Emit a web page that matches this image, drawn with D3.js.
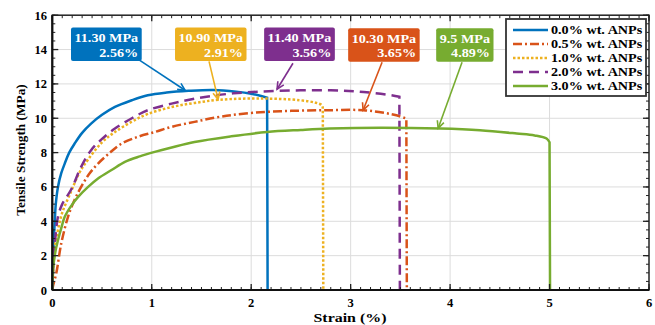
<!DOCTYPE html>
<html><head><meta charset="utf-8">
<script src="https://cdn.jsdelivr.net/npm/d3@7"></script>
<style>body{margin:0;background:#fff}svg{display:block}text{font-family:"Liberation Serif","Times New Roman",serif;font-weight:bold}</style>
</head><body><svg id="c" width="655" height="325"></svg>
<script>
const seriesNames = ["0.0% wt. ANPs","0.5% wt. ANPs","1.0% wt. ANPs","2.0% wt. ANPs","3.0% wt. ANPs"];
const seriesColors = ["#0072BD","#D95319","#EDB120","#7E2F8E","#77AC30"];
const xTicks = [0,1,2,3,4,5,6];
const yTicks = [0,2,4,6,8,10,12,14,16];
// [strain %, stress MPa]; the last point of each series is the fracture drop
const s00 = [[0,0],[0.004,1.2],[0.007,1.94],[0.015,3.0],[0.024,3.88],[0.035,5.0],[0.057,6.0],[0.09,6.8],[0.125,7.36],[0.17,8.0],[0.225,8.53],[0.3,9.15],[0.39,9.69],[0.5,10.2],[0.63,10.66],[0.8,11.05],[0.96,11.34],[1.15,11.5],[1.37,11.6],[1.62,11.65],[1.85,11.55],[2.0,11.43],[2.1,11.3],[2.16,11.2],[2.165,0]];
const s05 = [[0,0],[0.01,0.3],[0.04,0.97],[0.09,2.71],[0.158,4.26],[0.22,5.2],[0.29,6.0],[0.37,6.75],[0.46,7.36],[0.57,7.95],[0.69,8.5],[0.85,8.9],[1.03,9.2],[1.2,9.5],[1.43,9.79],[1.7,10.1],[2.02,10.32],[2.4,10.43],[2.79,10.47],[3.13,10.47],[3.35,10.3],[3.46,10.17],[3.56,9.98],[3.565,0]];
const s10 = [[0,0],[0.01,1.3],[0.03,2.7],[0.057,3.49],[0.1,4.5],[0.19,5.75],[0.27,6.8],[0.36,7.6],[0.5,8.6],[0.63,9.2],[0.8,9.8],[0.96,10.25],[1.2,10.65],[1.43,10.89],[1.69,11.08],[2.09,11.15],[2.49,11.05],[2.65,10.9],[2.71,10.76],[2.72,10.6],[2.725,0]];
const s20 = [[0,0],[0.01,1.5],[0.03,3.0],[0.057,4.26],[0.1,5.0],[0.19,5.85],[0.29,7.17],[0.39,8.14],[0.5,8.8],[0.63,9.4],[0.8,10.0],[0.96,10.47],[1.2,10.85],[1.43,11.14],[1.82,11.45],[2.26,11.59],[2.8,11.63],[3.13,11.53],[3.41,11.34],[3.49,11.25],[3.495,0]];
const s30 = [[0,0],[0.007,1.16],[0.03,2.2],[0.057,2.9],[0.09,3.6],[0.125,4.26],[0.19,4.9],[0.26,5.42],[0.36,6.0],[0.46,6.49],[0.6,7.0],[0.73,7.46],[0.88,7.78],[1.03,8.04],[1.2,8.3],[1.43,8.62],[1.8,8.95],[2.16,9.2],[2.5,9.32],[2.79,9.4],[3.3,9.45],[3.9,9.4],[4.3,9.3],[4.67,9.11],[4.85,9.0],[4.97,8.82],[5.0,8.6],[5.005,0]];
const seriesData = [s00,s05,s10,s20,s30];
const dashes = [null,"9,3,2,3","2.5,2","10,6",null];
// annotations: label lines, colour, box-left x, box-top y, arrow start, arrow target (data units)
const annLabels = [["11.30 MPa","2.56%"],["10.90 MPa","2.91%"],["11.40 MPa","3.56%"],["10.30 MPa","3.65%"],["9.5 MPa","4.89%"]];
const annColors = ["#0072BD","#EDB120","#7E2F8E","#D95319","#77AC30"];
const annBox = [[0.188,15.28],[1.234,15.28],[2.13,15.28],[2.975,15.24],[3.86,15.24]];
const annFrom = [[0.88,13.37],[1.576,13.31],[2.42,13.2],[3.316,13.26],[4.12,13.26]];
const annTo = [[1.335,11.63],[1.667,11.1],[2.26,11.69],[3.125,10.47],[3.88,9.42]];

const svg = d3.select("#c");
const L=52.3, R=649, T=15.2, B=290;
const x = d3.scaleLinear().domain([0,6]).range([L,R]);
const y = d3.scaleLinear().domain([0,16]).range([B,T]);
const SX = 1.18; // horizontal stretch of the original's text
function stretch(t,f){const w=t.node().getComputedTextLength();t.attr("textLength",w*f).attr("lengthAdjust","spacingAndGlyphs");return w*f;}

// grid
const g = svg.append("g");
g.selectAll(".gx").data(xTicks.slice(1,-1)).join("line").attr("x1",d=>x(d)).attr("x2",d=>x(d)).attr("y1",T).attr("y2",B).attr("stroke","#dcdcdc").attr("stroke-width",1);
g.selectAll(".gy").data(yTicks.slice(1,-1)).join("line").attr("x1",L).attr("x2",R).attr("y1",d=>y(d)).attr("y2",d=>y(d)).attr("stroke","#dcdcdc").attr("stroke-width",1);

// curves: smooth part + straight fracture drop
const line = d3.line().x(d=>x(d[0])).y(d=>y(d[1])).curve(d3.curveCatmullRom.alpha(0.5));
seriesData.forEach((d,i)=>{
  const last = d[d.length-1];
  const p = line(d.slice(0,-1)) + `L${x(last[0])},${y(last[1])}`;
  svg.append("path").attr("d",p).attr("fill","none").attr("stroke",seriesColors[i]).attr("stroke-width",2.5)
    .attr("stroke-dasharray",dashes[i]);
});

// axes
const xMinor = d3.range(0,6.001,0.1);
const yMinor = d3.range(0,16.001,0.5);
const ax = svg.append("g");
function tick(x1,y1,x2,y2,w){ax.append("line").attr("x1",x1).attr("y1",y1).attr("x2",x2).attr("y2",y2).attr("stroke","#222").attr("stroke-width",w||1);}
xMinor.forEach(v=>{tick(x(v),B,x(v),B-3);tick(x(v),T,x(v),T+3);});
yMinor.forEach(v=>{tick(L,y(v),L+3,y(v));tick(R,y(v),R-3,y(v));});
xTicks.forEach(v=>{tick(x(v),B,x(v),B-6,1.3);tick(x(v),T,x(v),T+6,1.3);});
yTicks.forEach(v=>{tick(L,y(v),L+6,y(v),1.3);tick(R,y(v),R-6,y(v),1.3);});
ax.append("rect").attr("x",L).attr("y",T).attr("width",R-L).attr("height",B-T).attr("fill","none").attr("stroke","#222").attr("stroke-width",1.5);
ax.append("line").attr("x1",L).attr("x2",R).attr("y1",B).attr("y2",B).attr("stroke","#111").attr("stroke-width",2.2);
ax.append("line").attr("x1",L).attr("x2",L).attr("y1",T).attr("y2",B).attr("stroke","#111").attr("stroke-width",2.2);

svg.selectAll(".xl").data(xTicks).join("text").attr("x",d=>x(d)).attr("y",306.5).attr("text-anchor","middle").attr("font-size",12.5).text(d=>d);
svg.selectAll(".yl").data(yTicks).join("text").attr("x",47).attr("y",d=>y(d)+4.5).attr("text-anchor","end").attr("font-size",12.5).text(d=>d);
const xt = svg.append("text").attr("x",350).attr("y",322).attr("text-anchor","middle").attr("font-size",13.5).text("Strain (%)");
stretch(xt,SX);
svg.append("text").attr("transform","translate(25,150) rotate(-90)").attr("text-anchor","middle").attr("font-size",13.3).text("Tensile Strength (MPa)");

// annotations
annLabels.forEach((lab,i)=>{
  const col = annColors[i];
  const bx = x(annBox[i][0]), by = y(annBox[i][1]);
  const grp = svg.append("g");
  const rect = grp.append("rect");
  const t1 = grp.append("text").attr("font-size",12).attr("fill","#fff").attr("text-anchor","end").text(lab[0]);
  const t2 = grp.append("text").attr("font-size",12).attr("fill","#fff").attr("text-anchor","end").text(lab[1]);
  const w1 = stretch(t1,SX); stretch(t2,SX);
  const w = w1 + 7, h = 33.5;
  rect.attr("x",bx).attr("y",by).attr("width",w).attr("height",h).attr("rx",2).attr("fill",col);
  t1.attr("x",bx+w-3.5).attr("y",by+14.4);
  t2.attr("x",bx+w-3.5).attr("y",by+29.2);
  const x1=x(annFrom[i][0]), y1=y(annFrom[i][1]), x2=x(annTo[i][0]), y2=y(annTo[i][1]);
  grp.append("line").attr("x1",x1).attr("y1",y1).attr("x2",x2).attr("y2",y2).attr("stroke",col).attr("stroke-width",1.6);
  const a = Math.atan2(y2-y1,x2-x1), hl=8, hw=0.45;
  const p1=[x2-hl*Math.cos(a-hw), y2-hl*Math.sin(a-hw)], p2=[x2-hl*Math.cos(a+hw), y2-hl*Math.sin(a+hw)];
  grp.append("path").attr("d",`M${p1}L${x2},${y2}L${p2}`).attr("fill","none").attr("stroke",col).attr("stroke-width",1.6);
});

// legend
const lg = svg.append("g");
lg.append("rect").attr("x",506).attr("y",19).attr("width",140).attr("height",77).attr("fill","#fff").attr("stroke","#333").attr("stroke-width",1.8);
seriesNames.forEach((n,i)=>{
  const ly = 30 + i*14;
  lg.append("line").attr("x1",513).attr("x2",548).attr("y1",ly).attr("y2",ly).attr("stroke",seriesColors[i]).attr("stroke-width",2.4).attr("stroke-dasharray",dashes[i]);
  const t = lg.append("text").attr("x",551).attr("y",ly+4.3).attr("font-size",12).text(n);
  stretch(t,SX);
});
</script></body></html>
